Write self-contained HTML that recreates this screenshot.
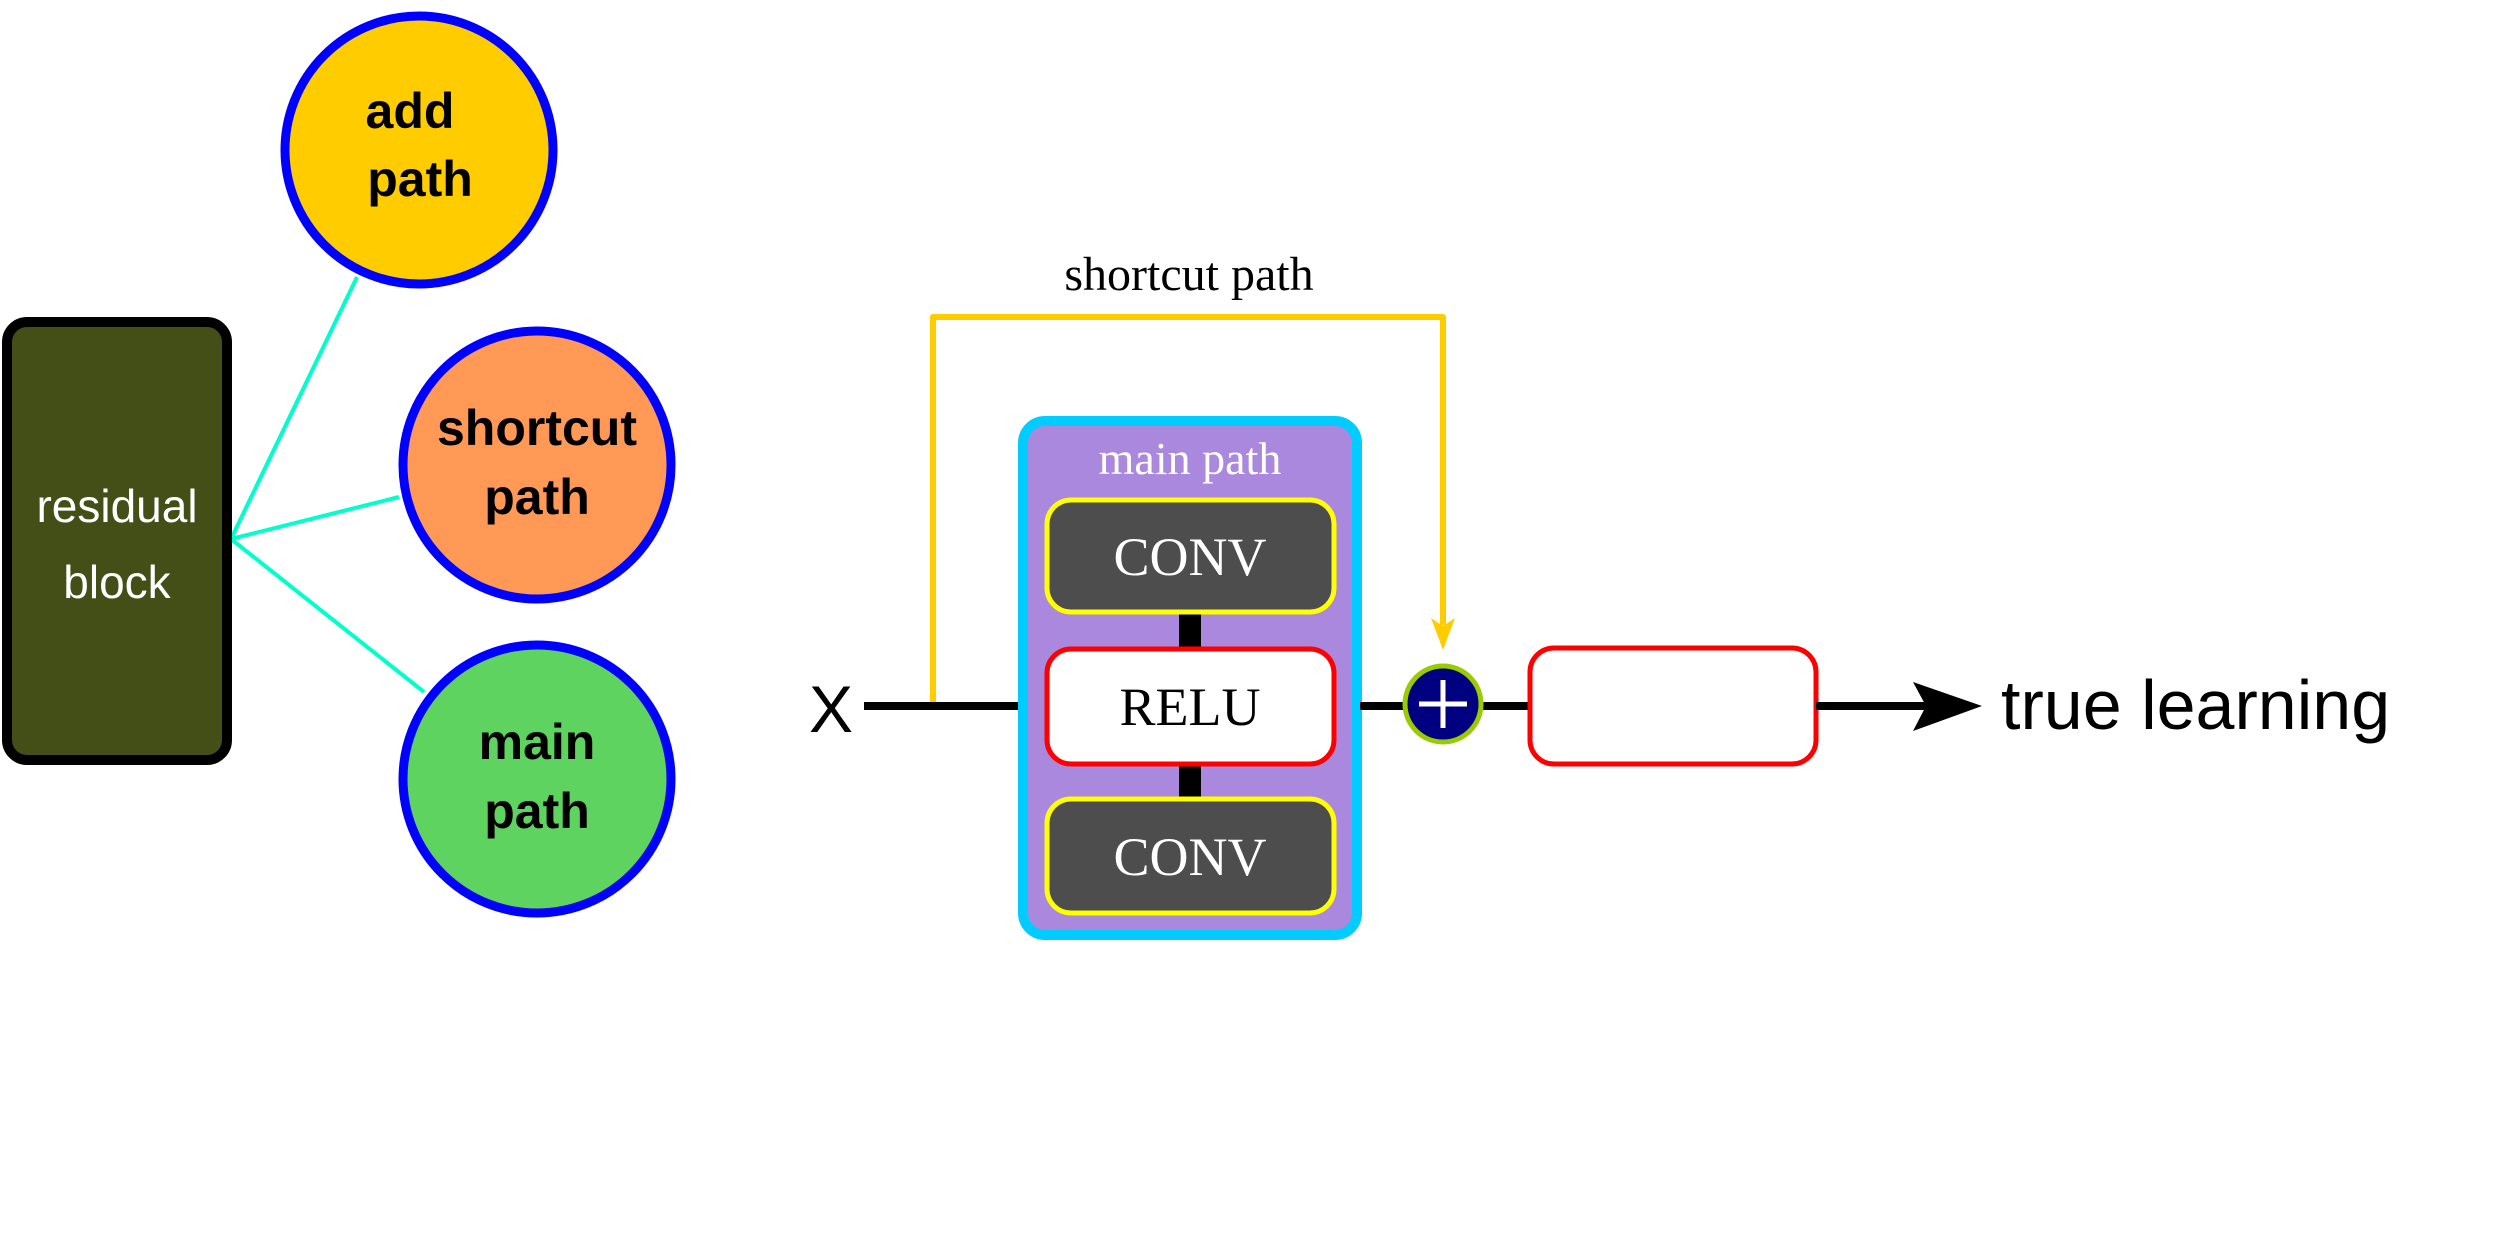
<!DOCTYPE html>
<html><head><style>html,body{margin:0;padding:0;background:#fff}</style></head>
<body>
<svg width="2500" height="1240" viewBox="0 0 2500 1240" xmlns="http://www.w3.org/2000/svg">
<rect width="2500" height="1240" fill="#fff"/>
<!-- left mind map -->
<g stroke="#00ffcc" stroke-width="4">
<line x1="231" y1="539" x2="357" y2="277"/>
<line x1="231" y1="539" x2="399" y2="497"/>
<line x1="231" y1="539" x2="424" y2="692"/>
</g>
<rect x="7" y="322" width="220" height="438" rx="20" fill="#444f17" stroke="#000" stroke-width="10"/>
<g font-family="Liberation Sans, sans-serif" fill="#fff" font-size="46" text-anchor="middle">
<text x="117" y="522">residual</text>
<text x="117" y="598">block</text>
</g>
<circle cx="419" cy="150" r="134" fill="#ffcc00" stroke="#0000ff" stroke-width="9"/>
<circle cx="537" cy="465" r="134" fill="#ff9955" stroke="#0000ff" stroke-width="9"/>
<circle cx="537" cy="779" r="134" fill="#5fd35f" stroke="#0000ff" stroke-width="9"/>
<g font-family="Liberation Sans, sans-serif" font-weight="bold" font-size="50" text-anchor="middle" fill="#000">
<text x="410" y="128">add</text>
<text x="420" y="196">path</text>
<text x="537" y="445">shortcut</text>
<text x="537" y="514">path</text>
<text x="537" y="759">main</text>
<text x="537" y="828">path</text>
</g>
<!-- main line -->
<line x1="864" y1="706" x2="1020" y2="706" stroke="#000" stroke-width="8"/>
<text x="831" y="732" font-family="Liberation Sans, sans-serif" font-size="66" text-anchor="middle">X</text>
<!-- shortcut -->
<polyline points="933,702 933,317 1443,317 1443,625" fill="none" stroke="#ffcc00" stroke-width="6" stroke-linejoin="round"/>
<polygon points="1431,618 1443,650 1455,618 1443,626" fill="#ffcc00"/>
<text x="1189" y="290" font-family="Liberation Serif, serif" font-size="48" text-anchor="middle">shortcut path</text>
<!-- main path box -->
<rect x="1023" y="421" width="334" height="514" rx="22" fill="#aa88dd" stroke="#00ccff" stroke-width="10"/>
<text x="1190" y="474" font-family="Liberation Serif, serif" font-size="46" fill="#fff" text-anchor="middle">main path</text>
<rect x="1179" y="610" width="22" height="42" fill="#000"/>
<rect x="1179" y="762" width="22" height="40" fill="#000"/>
<rect x="1047" y="500" width="287" height="112" rx="24" fill="#4d4d4d" stroke="#ffff00" stroke-width="5"/>
<rect x="1047" y="649" width="287" height="115" rx="24" fill="#fff" stroke="#ff0000" stroke-width="5"/>
<rect x="1047" y="799" width="287" height="114" rx="24" fill="#4d4d4d" stroke="#ffff00" stroke-width="5"/>
<g font-family="Liberation Serif, serif" font-size="54" text-anchor="middle">
<text x="1190" y="575" fill="#fff">CONV</text>
<text x="1190" y="725" fill="#000">RELU</text>
<text x="1190" y="875" fill="#fff">CONV</text>
<text x="1673" y="725" fill="#000">RELU</text>
</g>
<!-- plus and after -->
<line x1="1360" y1="706" x2="1403" y2="706" stroke="#000" stroke-width="8"/>
<line x1="1483" y1="706" x2="1530" y2="706" stroke="#000" stroke-width="8"/>
<circle cx="1443" cy="704" r="38" fill="#000080" stroke="#99cc00" stroke-width="5"/>
<line x1="1443" y1="680" x2="1443" y2="728" stroke="#fff" stroke-width="5"/>
<line x1="1419" y1="704" x2="1467" y2="704" stroke="#fff" stroke-width="5"/>
<rect x="1530" y="648" width="286" height="116" rx="24" fill="#fff" stroke="#ff0000" stroke-width="5"/>
<line x1="1816" y1="706" x2="1930" y2="706" stroke="#000" stroke-width="8"/>
<polygon points="1913,682 1982,706 1913,731 1926,706" fill="#000"/>
<text x="2001" y="729" font-family="Liberation Sans, sans-serif" font-size="70">true learning</text>
</svg>
</body></html>
